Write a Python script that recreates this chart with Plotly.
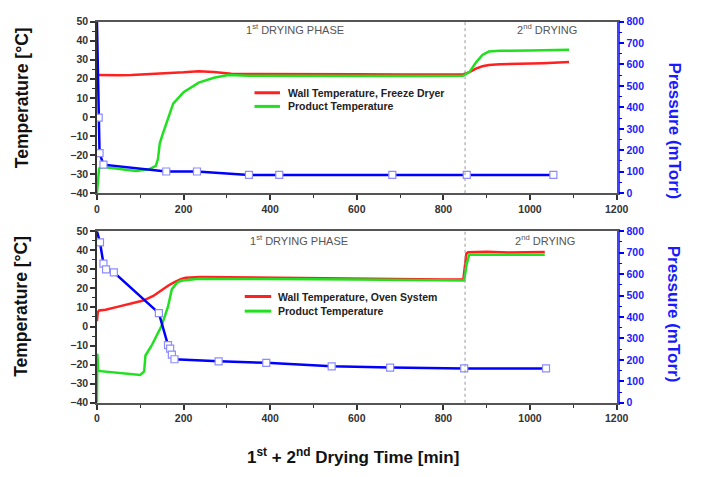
import plotly.graph_objects as go

# ---------------- data ----------------
# Top panel: freeze dryer
top_wall_x = [0, 20, 50, 80, 120, 160, 200, 235, 270, 310, 360, 400, 500, 600, 700, 800, 845, 860, 875, 890, 905, 930, 980, 1030, 1090]
top_wall_y = [22, 22.1, 21.9, 22.0, 22.4, 22.8, 23.4, 24.0, 23.6, 22.6, 22.5, 22.5, 22.5, 22.4, 22.3, 22.2, 22.3, 23.5, 25.3, 26.6, 27.2, 27.6, 27.8, 28.2, 28.8]
top_prod_x = [0, 2, 5, 15, 50, 90, 120, 136, 141, 145, 151, 158, 165, 176, 200, 235, 270, 303, 350, 450, 600, 750, 845, 860, 875, 890, 905, 930, 1000, 1090]
top_prod_y = [-40, -33, -27, -26.3, -27.2, -28.4, -27.5, -25.7, -22, -14, -9.5, -5, 0.5, 7, 13, 18, 20.5, 22, 21.6, 21.5, 21.5, 21.4, 21.6, 23.5, 28.5, 32.5, 34.3, 34.7, 34.8, 35.2]
top_pres_x = [0, 4, 6, 15, 160, 231, 351, 421, 682, 854, 1054]
top_pres_y = [800, 352, 187, 133, 101, 101, 85, 85, 85, 85, 85]

# Bottom panel: oven system
bot_wall_x = [0, 2, 5, 20, 47, 80, 107, 130, 145, 165, 179, 195, 205, 240, 303, 400, 500, 600, 700, 800, 846, 853, 857, 900, 950, 1000, 1034]
bot_wall_y = [2.8, 7.5, 8.4, 8.8, 10.3, 12, 13.6, 16, 18.5, 21.5, 23.3, 25, 25.6, 26, 25.8, 25.5, 25.2, 25, 24.8, 24.6, 24.6, 38.2, 39.0, 39.2, 38.8, 39.1, 39.1]
bot_prod_x = [0, 1, 3, 20, 54, 100, 109, 112, 126, 149, 164, 173, 185, 194, 235, 300, 400, 500, 600, 700, 800, 848, 854, 860, 900, 950, 1000, 1034]
bot_prod_y = [-40, -14.3, -23.3, -23.6, -24.5, -25.4, -23.6, -15.2, -10.1, 0.2, 10.4, 19.6, 23, 24, 25.1, 25.1, 25, 24.8, 24.6, 24.4, 24.2, 24.1, 33, 37.8, 37.6, 37.7, 37.5, 37.7]
bot_pres_x = [0, 7, 15, 21, 39, 143, 164, 169, 173, 179, 281, 391, 542, 677, 848, 1037]
bot_pres_y = [800, 748, 649, 622, 608, 418, 269, 252, 224, 203, 193, 186, 170, 164, 160, 160]

top_labels = ["Wall Temperature, Freeze Dryer", "Product Temperature"]
bot_labels = ["Wall Temperature, Oven System", "Product Temperature"]

phase_split = 850
temp_ticks = list(range(-40, 51, 10))
pres_ticks = list(range(0, 801, 100))
time_ticks = list(range(0, 1201, 200))

# ---------------- figure ----------------
W, H = 703, 477
RED, GREEN, BLUE = "#ff2020", "#20e020", "#0000ff"

def px_x(p):
    return p / W

def px_y(p):
    return 1 - p / H

fig = go.Figure()

marker_style = dict(symbol="square", size=7, color="white", line=dict(color="#8c8cff", width=1.2))

fig.add_trace(go.Scatter(x=top_wall_x, y=top_wall_y, mode="lines", line=dict(color=RED, width=2.5),
                         name=top_labels[0], xaxis="x", yaxis="y"))
fig.add_trace(go.Scatter(x=top_prod_x, y=top_prod_y, mode="lines", line=dict(color=GREEN, width=2.5),
                         name=top_labels[1], xaxis="x", yaxis="y"))
fig.add_trace(go.Scatter(x=top_pres_x, y=top_pres_y, mode="lines", line=dict(color=BLUE, width=2.5),
                         name="Pressure", xaxis="x", yaxis="y2"))
fig.add_trace(go.Scatter(x=top_pres_x[1:], y=top_pres_y[1:], mode="markers", marker=marker_style,
                         name="Pressure points", xaxis="x", yaxis="y2"))

fig.add_trace(go.Scatter(x=bot_wall_x, y=bot_wall_y, mode="lines", line=dict(color=RED, width=2.5),
                         name=bot_labels[0], xaxis="x2", yaxis="y3"))
fig.add_trace(go.Scatter(x=bot_prod_x, y=bot_prod_y, mode="lines", line=dict(color=GREEN, width=2.5),
                         name=bot_labels[1], xaxis="x2", yaxis="y3"))
fig.add_trace(go.Scatter(x=bot_pres_x, y=bot_pres_y, mode="lines", line=dict(color=BLUE, width=2.5),
                         name="Pressure", xaxis="x2", yaxis="y4"))
fig.add_trace(go.Scatter(x=bot_pres_x[1:], y=bot_pres_y[1:], mode="markers", marker=marker_style,
                         name="Pressure points", xaxis="x2", yaxis="y4"))

tickfont = dict(family="Arial", size=10.5, color="#333333", weight="bold")
xdom = [px_x(96), px_x(627)]
top_dom = [px_y(192), px_y(16)]
bot_dom = [px_y(407), px_y(231)]

def xaxis(anchor):
    return dict(domain=xdom, anchor=anchor, range=[0, 1200], tickvals=time_ticks,
                ticks="outside", ticklen=5, tickwidth=1.5, tickcolor="#333",
                showline=True, linecolor="#555", linewidth=2, mirror=True,
                showgrid=False, zeroline=False, tickfont=tickfont,
                minor=dict(dtick=100, ticks="outside", ticklen=3, tickwidth=1.2, tickcolor="#333"))

def tempaxis(dom, anchor):
    return dict(domain=dom, anchor=anchor, range=[-40, 50], tickvals=temp_ticks,
                ticks="outside", ticklen=5, tickwidth=1.5, tickcolor="#333",
                showline=True, linecolor="#333", linewidth=1.5,
                showgrid=False, zeroline=False, tickfont=tickfont,
                minor=dict(dtick=5, ticks="outside", ticklen=3, tickwidth=1.2, tickcolor="#333"))

def presaxis(over, anchor):
    return dict(overlaying=over, anchor=anchor, side="right", range=[0, 800], tickvals=pres_ticks,
                ticks="outside", ticklen=5, tickwidth=1.5, tickcolor=BLUE,
                showline=True, linecolor="#4040ff", linewidth=2.5,
                showgrid=False, zeroline=False,
                tickfont=dict(family="Arial", size=10.5, color="#2020ff", weight="bold"),
                minor=dict(dtick=50, ticks="outside", ticklen=3, tickwidth=1.2, tickcolor=BLUE))

fig.update_layout(
    width=W, height=H, margin=dict(l=0, r=0, t=0, b=0),
    paper_bgcolor="white", plot_bgcolor="white",
    xaxis=xaxis("y"),
    xaxis2=xaxis("y3"),
    yaxis=tempaxis(top_dom, "x"),
    yaxis2=presaxis("y", "x"),
    yaxis3=tempaxis(bot_dom, "x2"),
    yaxis4=presaxis("y3", "x2"),
    showlegend=False,
)

for xr, yr in (("x", "y"), ("x2", "y3")):
    fig.add_shape(type="line", xref=xr, yref=f"{yr} domain", x0=phase_split, x1=phase_split, y0=0, y1=1,
                  line=dict(color="#999999", width=1, dash="dot"))

# manual legends (compact spacing as in the reference)
legend_font = dict(family="Arial", size=10.5, color="#222222", weight="bold")
for labels, lx0, lx1, tx, ys in ((top_labels, 257, 283, 289, (89, 103)),
                                 (bot_labels, 247, 274, 279, (298, 313))):
    for lab, col, yy in zip(labels, (RED, GREEN), ys):
        fig.add_shape(type="line", xref="paper", yref="paper", x0=px_x(lx0), x1=px_x(lx1),
                      y0=px_y(yy), y1=px_y(yy), line=dict(color=col, width=3))
        fig.add_annotation(text=lab, xref="paper", yref="paper", x=px_x(tx), y=px_y(yy),
                           xanchor="left", yanchor="middle", showarrow=False, font=legend_font)

note_font = dict(family="Arial", size=11, color="#555555")
anns = [
    dict(text="1<sup>st</sup> DRYING PHASE", x=px_x(246), y=px_y(24), xanchor="left"),
    dict(text="2<sup>nd</sup> DRYING", x=px_x(523), y=px_y(24), xanchor="left"),
    dict(text="1<sup>st</sup> DRYING PHASE", x=px_x(250), y=px_y(240), xanchor="left"),
    dict(text="2<sup>nd</sup> DRYING", x=px_x(521), y=px_y(240), xanchor="left"),
]
for a in anns:
    fig.add_annotation(xref="paper", yref="paper", showarrow=False, yanchor="middle", font=note_font, **a)

title_font = dict(family="Arial", size=17.5, color="#111111", weight="bold")
blue_title = dict(family="Arial", size=17, color="#1a1aff", weight="bold")
for yc, pc in ((94, 128), (308, 316)):
    fig.add_annotation(text="Temperature [°C]", xref="paper", yref="paper", x=px_x(19), y=px_y(yc),
                       textangle=-90, showarrow=False, font=title_font, xanchor="center", yanchor="middle")
    fig.add_annotation(text="Pressure (mTorr)", xref="paper", yref="paper", x=px_x(686), y=px_y(pc),
                       textangle=90, showarrow=False, font=blue_title, xanchor="center", yanchor="middle")

fig.add_annotation(text="1<sup>st</sup> + 2<sup>nd</sup> Drying Time [min]", xref="paper", yref="paper",
                   x=px_x(358), y=px_y(462), showarrow=False, xanchor="center", yanchor="middle",
                   font=dict(family="Arial", size=17, color="#111111", weight="bold"))

fig.write_html("out.html")
